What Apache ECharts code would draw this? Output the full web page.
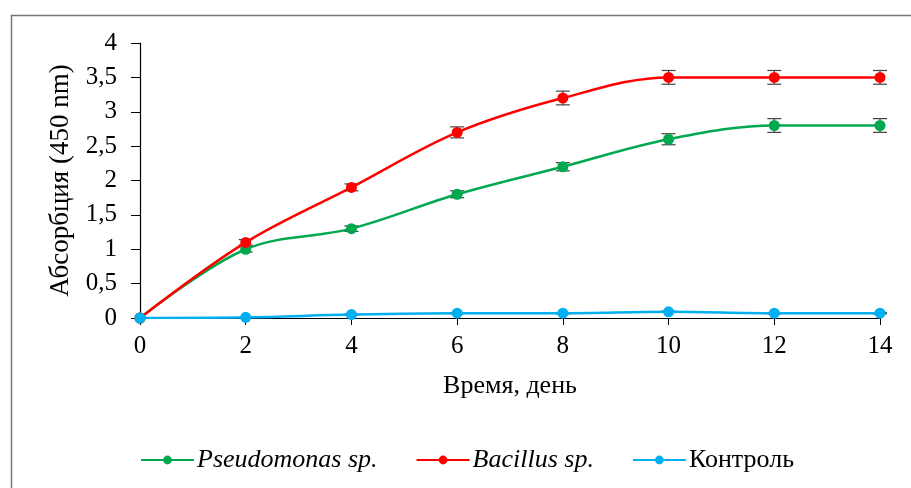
<!DOCTYPE html>
<html><head><meta charset="utf-8">
<script src="https://cdn.jsdelivr.net/npm/echarts@6/dist/echarts.min.js"></script>
<style>html,body{margin:0;padding:0;background:#fff}#c{width:911px;height:488px}</style>
</head><body><div id="c"></div>
<script>
const days = [0, 2, 4, 6, 8, 10, 12, 14];
const pseudomonas = [0, 1.0, 1.3, 1.8, 2.2, 2.6, 2.8, 2.8];
const pseudomonasErr = [0, 0.04, 0.04, 0.05, 0.06, 0.08, 0.1, 0.1];
const bacillus = [0, 1.1, 1.9, 2.7, 3.2, 3.5, 3.5, 3.5];
const bacillusErr = [0, 0.04, 0.05, 0.08, 0.1, 0.1, 0.1, 0.1];
const control = [0, 0.01, 0.05, 0.07, 0.07, 0.09, 0.07, 0.07];
const controlErr = [0, 0, 0.01, 0.01, 0.01, 0.01, 0.01, 0.01];
const seriesNames = ['Pseudomonas sp.', 'Bacillus sp.', 'Контроль'];
const colors = ['#00A84F', '#FF0000', '#00B0F0'];

const font = 'Liberation Serif';
function pairs(ys) { return days.map((d, i) => [d, ys[i]]); }
function errData(ys, es) { return days.map((d, i) => [d, ys[i] - es[i], ys[i] + es[i]]); }
function errSeries(ys, es) {
  return {
    type: 'custom', silent: true, z: 1,
    data: errData(ys, es),
    renderItem: function (params, api) {
      const x = api.value(0);
      const lo = api.coord([x, api.value(1)]);
      const hi = api.coord([x, api.value(2)]);
      if (Math.abs(hi[1] - lo[1]) < 1) return null;
      const w = 7;
      const st = { stroke: '#444', lineWidth: 1.2 };
      return { type: 'group', children: [
        { type: 'line', shape: { x1: lo[0], y1: lo[1], x2: hi[0], y2: hi[1] }, style: st },
        { type: 'line', shape: { x1: lo[0] - w, y1: lo[1], x2: lo[0] + w, y2: lo[1] }, style: st },
        { type: 'line', shape: { x1: hi[0] - w, y1: hi[1], x2: hi[0] + w, y2: hi[1] }, style: st }
      ]};
    }
  };
}
function lineSeries(name, ys, color) {
  return {
    name: name, type: 'line', data: pairs(ys), smooth: 0.35,
    symbol: 'circle', symbolSize: 11, z: 3,
    lineStyle: { color: color, width: 2.5 },
    itemStyle: { color: color }
  };
}

const chart = echarts.init(document.getElementById('c'));
chart.setOption({
  animation: false,
  backgroundColor: '#fff',
  graphic: [{
    type: 'rect', left: 9, top: 13, z: -1,
    shape: { x: 0, y: 0, width: 1000, height: 600 },
    style: { fill: 'none', stroke: '#777', lineWidth: 1.5 }
  }],
  grid: { left: 140, right: 31, top: 43, bottom: 170 },
  xAxis: {
    type: 'value', min: 0, max: 14, interval: 2,
    name: 'Время, день', nameLocation: 'middle', nameGap: 55,
    nameTextStyle: { fontFamily: font, fontSize: 26, color: '#000' },
    axisLine: { lineStyle: { color: '#000', width: 1.2 } },
    axisTick: { show: true, length: 7, lineStyle: { color: '#000' } },
    axisLabel: { fontFamily: font, fontSize: 25, color: '#000', margin: 16 },
    splitLine: { show: false }
  },
  yAxis: {
    type: 'value', min: 0, max: 4, interval: 0.5,
    name: 'Абсорбция (450 nm)', nameLocation: 'middle', nameGap: 66,
    nameTextStyle: { fontFamily: font, fontSize: 27, color: '#000' },
    axisLine: { show: true, lineStyle: { color: '#000', width: 1.2 } },
    axisTick: { show: true, length: 9, lineStyle: { color: '#000' } },
    axisLabel: { fontFamily: font, fontSize: 25, color: '#000', margin: 23,
      formatter: v => String(v).replace('.', ',') },
    splitLine: { show: false }
  },
  legend: {
    top: 441, left: 135,
    itemWidth: 53, itemHeight: 11, itemGap: 38,
    data: seriesNames,
    formatter: function (n) { return n === 'Контроль' ? n : '{i|' + n + '}'; },
    textStyle: { fontFamily: font, fontSize: 26, color: '#000', lineHeight: 28, padding: [0, 0, 0, -2],
      rich: { i: { fontFamily: font, fontSize: 26, fontStyle: 'italic', color: '#000', lineHeight: 28 } } }
  },
  series: [
    errSeries(pseudomonas, pseudomonasErr),
    errSeries(bacillus, bacillusErr),
    errSeries(control, controlErr),
    lineSeries(seriesNames[0], pseudomonas, colors[0]),
    lineSeries(seriesNames[1], bacillus, colors[1]),
    lineSeries(seriesNames[2], control, colors[2])
  ]
});
</script></body></html>
